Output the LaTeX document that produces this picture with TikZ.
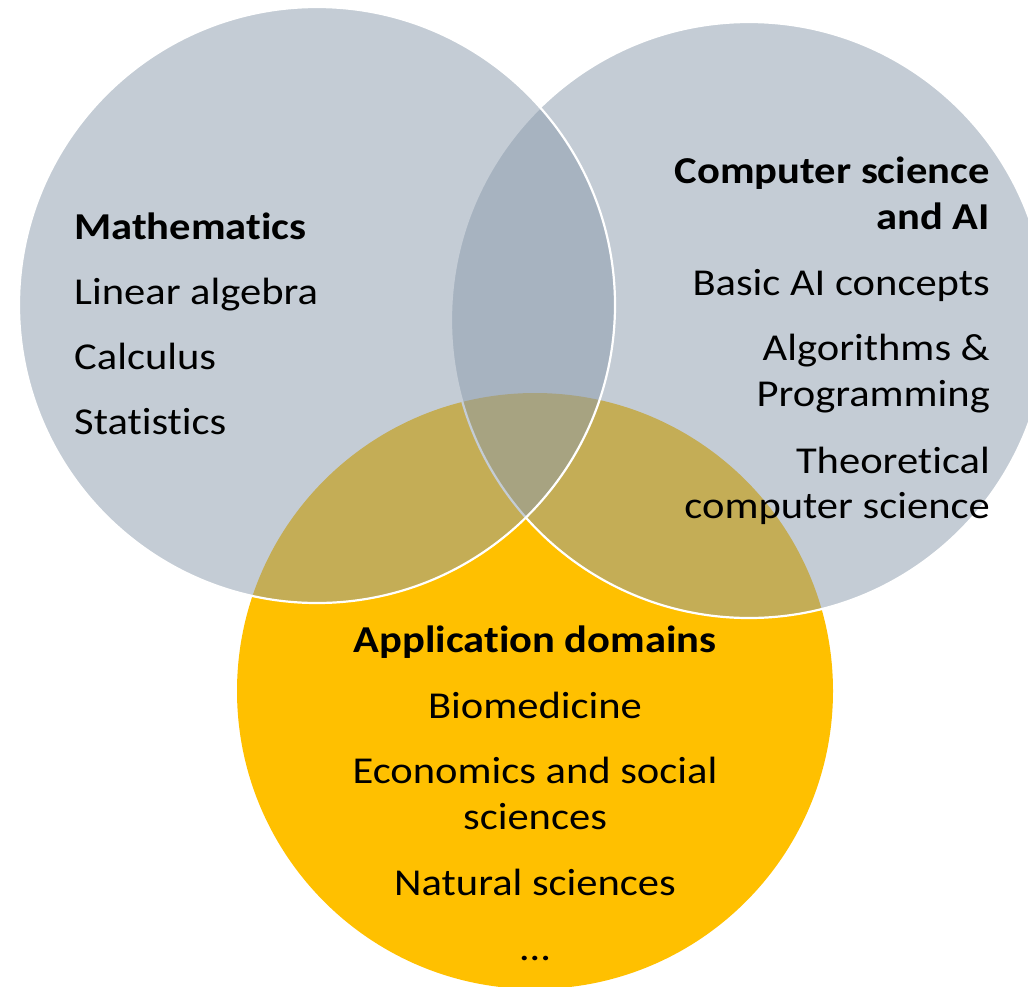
\documentclass[tikz,border=0pt]{standalone}
\usepackage{fontspec}
\setmainfont[Ligatures=NoCommon]{Carlito}
\definecolor{venngray}{HTML}{8B9BAD}
\definecolor{vennyellow}{HTML}{FFC000}
\begin{document}
\begin{tikzpicture}[x=1pt,y=-1pt,
  grayset/.style={fill=venngray,fill opacity=0.5,draw=white,draw opacity=1,line width=2.2pt},
  yellowset/.style={fill=vennyellow},
  lbl/.style={inner sep=0pt,xscale=1.12,transform shape,font=\fontsize{38}{45}\selectfont},
  ttl/.style={inner sep=0pt,xscale=1.12,transform shape,font=\fontsize{38}{45}\selectfont\bfseries}]
\useasboundingbox (0,0) rectangle (1028,986);
\fill[white] (0,0) rectangle (1028,986);
\begin{scope}
\clip (0,0) rectangle (1028,986);
\fill[yellowset] (535,691) circle[radius=298pt];
\filldraw[grayset] (749,320) circle[radius=298pt];
\filldraw[grayset] (317,305) circle[radius=298pt];
\end{scope}
% Mathematics
\node[ttl,anchor=base west] (mt) at (74,239) {Mathematics};
\node[lbl,anchor=base west] (m1) at (74,304) {Linear algebra};
\node[lbl,anchor=base west] (m2) at (74,369) {Calculus};
\node[lbl,anchor=base west] (m3) at (74,434) {Statistics};
% Computer science
\node[ttl,anchor=base east] (ct1) at (990,183) {Computer science};
\node[ttl,anchor=base east] (ct2) at (990,229) {and AI};
\node[lbl,anchor=base east] (c1) at (990,295) {Basic AI concepts};
\node[lbl,anchor=base east] (c2a) at (990,360) {Algorithms \&};
\node[lbl,anchor=base east] (c2b) at (990,406) {Programming};
\node[lbl,anchor=base east] (c3a) at (990,473) {Theoretical};
\node[lbl,anchor=base east] (c3b) at (990,518) {computer science};
% Application domains
\node[ttl,anchor=base] (at) at (535,652) {Application domains};
\node[lbl,anchor=base] (a1) at (535,718) {Biomedicine};
\node[lbl,anchor=base] (a2a) at (535,783) {Economics and social};
\node[lbl,anchor=base] (a2b) at (535,829) {sciences};
\node[lbl,anchor=base] (a3) at (535,895) {Natural sciences};
\node[lbl,anchor=base] (a4) at (535,960) {…};
\end{tikzpicture}
\end{document}
